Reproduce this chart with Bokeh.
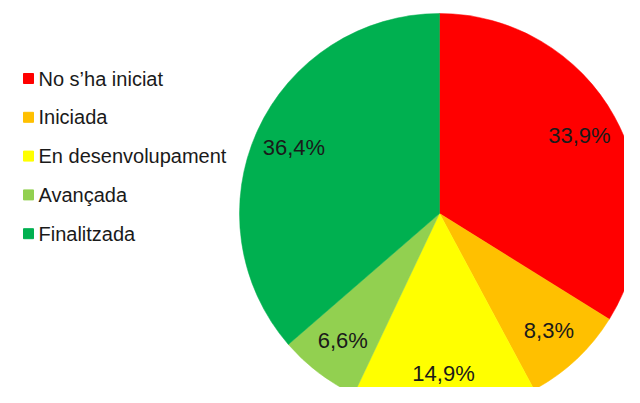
import math
from bokeh.plotting import figure
from bokeh.models import ColumnDataSource, Range1d
from bokeh.core.properties import value
from bokeh.embed import file_html
from bokeh.resources import INLINE

categories = ["No s\u2019ha iniciat", "Iniciada", "En desenvolupament", "Avan\u00e7ada", "Finalitzada"]
percent = [33.9, 8.3, 14.9, 6.6, 36.4]
labels = ["33,9%", "8,3%", "14,9%", "6,6%", "36,4%"]
colors = ["#FF0000", "#FFC000", "#FFFF00", "#92D050", "#00B050"]

W, H = 624, 387
CX, CY, R = 439, 174, 200
LABEL_R = 0.8 * R

total = sum(percent)
starts, ends, lx, ly = [], [], [], []
cum = 0.0
for v in percent:
    a0 = math.pi / 2 - 2 * math.pi * cum / total
    a1 = math.pi / 2 - 2 * math.pi * (cum + v) / total
    starts.append(a0)
    ends.append(a1)
    mid = (a0 + a1) / 2
    lx.append(CX + LABEL_R * math.cos(mid))
    ly.append(CY + LABEL_R * math.sin(mid))
    cum += v

src = ColumnDataSource(dict(start=starts, end=ends, color=colors, lx=lx, ly=ly,
                            label=labels))

p = figure(width=W, height=H, output_backend="svg", toolbar_location=None,
           x_range=Range1d(0, W), y_range=Range1d(0, H), min_border=0)
p.axis.visible = False
p.grid.visible = False
p.outline_line_color = None
p.background_fill_color = "white"
p.border_fill_color = "white"

p.wedge(x=CX, y=CY, radius=R, start_angle="start", end_angle="end",
        direction="clock", fill_color="color", line_color="color", line_width=0.5,
        source=src)
p.text(x="lx", y="ly", text="label", source=src, text_align="center",
       text_baseline="middle", text_font=value("Liberation Sans"),
       text_font_size="22px", text_color="#1a1a1a")

# legend
LEG_X, LEG_Y0, LEG_STEP = 28, 309, 38.8
leg_y = [LEG_Y0 - i * LEG_STEP for i in range(len(categories))]
lsrc = ColumnDataSource(dict(x=[LEG_X] * len(categories), tx=[LEG_X + 10] * len(categories),
                             y=leg_y, color=colors, text=categories))
p.scatter(x="x", y="y", marker="square", size=10, fill_color="color",
          line_color="color", source=lsrc)
p.text(x="tx", y="y", text="text", source=lsrc, text_align="left",
       text_baseline="middle", text_font=value("Liberation Sans"),
       text_font_size="20px", text_color="#1a1a1a")

open("out.html", "w").write(file_html(p, INLINE))
